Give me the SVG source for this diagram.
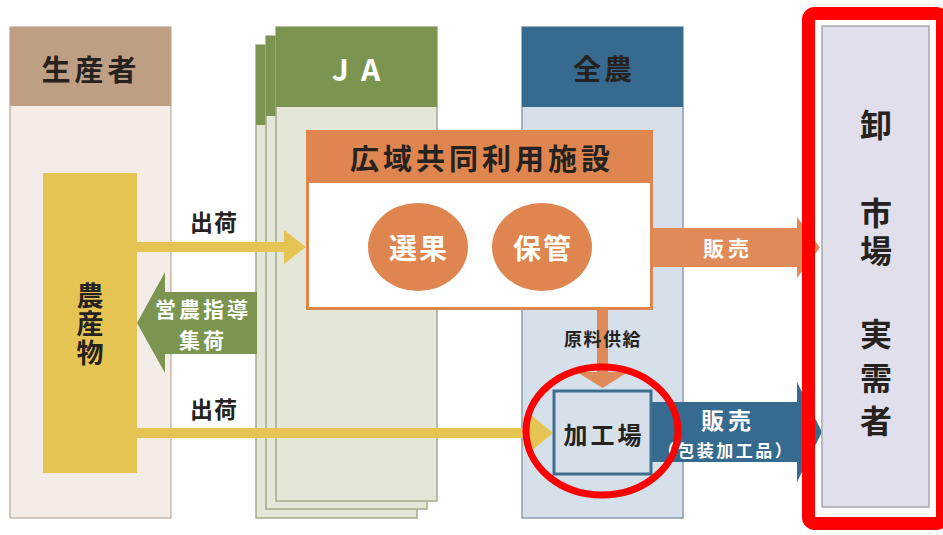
<svg xmlns="http://www.w3.org/2000/svg" width="943" height="535" viewBox="0 0 943 535">
<style>
text{font-family:"Noto Sans CJK JP","Noto Sans",sans-serif;font-weight:bold;text-anchor:middle;dominant-baseline:central}
.dk{fill:#262220}
.wh{fill:#ffffff}
.vt{writing-mode:vertical-rl;text-anchor:start}
.page{fill:#e4e7d7;stroke:#a3ab8c;stroke-width:1.5}
.jah{fill:#7b9550}
</style>
<rect width="943" height="535" fill="#ffffff"/>
<g id="producer">
<rect x="10" y="27" width="161" height="491" fill="#f4ede7" stroke="#b9aa9c" stroke-width="1.2"/>
<rect x="10" y="27" width="161" height="79" fill="#bf9f84"/>
<text class="dk" x="91" y="68" font-size="29" letter-spacing="4">生産者</text>
</g>
<g id="produce">
<rect x="43" y="173" width="94" height="300" fill="#e6c453"/>
<text class="dk vt" x="90" y="282" font-size="27" letter-spacing="1.5">農産物</text>
</g>
<g id="ja">
<rect class="page" x="256" y="45" width="161" height="473"/>
<rect class="jah" x="256" y="45" width="161" height="80"/>
<rect class="page" x="266" y="36" width="161" height="473"/>
<rect class="jah" x="266" y="36" width="161" height="80"/>
<rect class="page" x="276" y="27" width="161" height="474"/>
<rect class="jah" x="276" y="27" width="161" height="80"/>
<text class="wh" x="362" y="68" font-size="30" letter-spacing="12">JA</text>
</g>
<g id="zennoh">
<rect x="522" y="27" width="161" height="491" fill="#d6e0eb" stroke="#8a9db0" stroke-width="1.5"/>
<rect x="522" y="27" width="161" height="80" fill="#376a8f"/>
<text class="dk" x="604" y="68" font-size="28" letter-spacing="3">全農</text>
</g>
<g id="connectors">
<path d="M137 242H284V230L306 247L284 264V252H137Z" fill="#e6c453"/>
<path d="M137 428H529V413L553 433L529 453V438H137Z" fill="#e6c453"/>
<path d="M137 323L165 272V292H257V354H165V373Z" fill="#7b9550"/>
<text class="wh" x="203" y="308" font-size="21" letter-spacing="3">営農指導</text>
<text class="wh" x="203" y="339" font-size="21" letter-spacing="3">集荷</text>
<text class="dk" x="214" y="221" font-size="23" letter-spacing="1">出荷</text>
<text class="dk" x="214" y="408" font-size="23" letter-spacing="1">出荷</text>
<path d="M653 228H797V217L820 247.5L797 278V267H653Z" fill="#df8a58"/>
<text class="wh" x="728" y="247" font-size="21" letter-spacing="4">販売</text>
<path d="M597 310H608V372H628L602.5 388L577 372H597Z" fill="#df8a58"/>
<text class="dk" x="603" y="338" font-size="18" letter-spacing="1.5">原料供給</text>
<path d="M652 402H797V382L822 432L797 482V462H652Z" fill="#376a8f"/>
<text class="wh" x="728" y="419" font-size="23" letter-spacing="4">販売</text>
<text class="wh" x="726" y="449" font-size="17" letter-spacing="2.5">（包装加工品）</text>
</g>
<g id="facility">
<rect x="307.5" y="131.5" width="344" height="177" fill="#ffffff" stroke="#df8550" stroke-width="3"/>
<rect x="306" y="130" width="347" height="53" fill="#df8550"/>
<text class="dk" x="482" y="157" font-size="29" letter-spacing="4">広域共同利用施設</text>
<ellipse cx="418" cy="247" rx="50" ry="44" fill="#df8550"/>
<text class="wh" x="419" y="247" font-size="28" letter-spacing="2">選果</text>
<ellipse cx="542" cy="247" rx="50" ry="44" fill="#df8550"/>
<text class="wh" x="543" y="247" font-size="28" letter-spacing="2">保管</text>
</g>
<g id="factory">
<rect x="554" y="391" width="97" height="83" fill="#d6e0eb" stroke="#3f6e8f" stroke-width="3"/>
<text class="dk" x="604" y="433" font-size="24" letter-spacing="3">加工場</text>
</g>
<g id="market">
<rect x="822" y="26" width="107" height="481" fill="#e1dfeb" stroke="#a8a6b3" stroke-width="1.5"/>
<text class="dk" x="876" y="123" font-size="32">卸</text>
<text class="dk vt" x="876" y="197" font-size="32" letter-spacing="6">市場</text>
<text class="dk vt" x="876" y="318" font-size="32" letter-spacing="11.5">実需者</text>
</g>
<g id="highlights">
<ellipse cx="602" cy="431" rx="76" ry="64" fill="none" stroke="#ff0000" stroke-width="7"/>
<rect x="808.5" y="13.5" width="134" height="510" rx="6" fill="none" stroke="#ff0000" stroke-width="13"/>
</g>
</svg>
